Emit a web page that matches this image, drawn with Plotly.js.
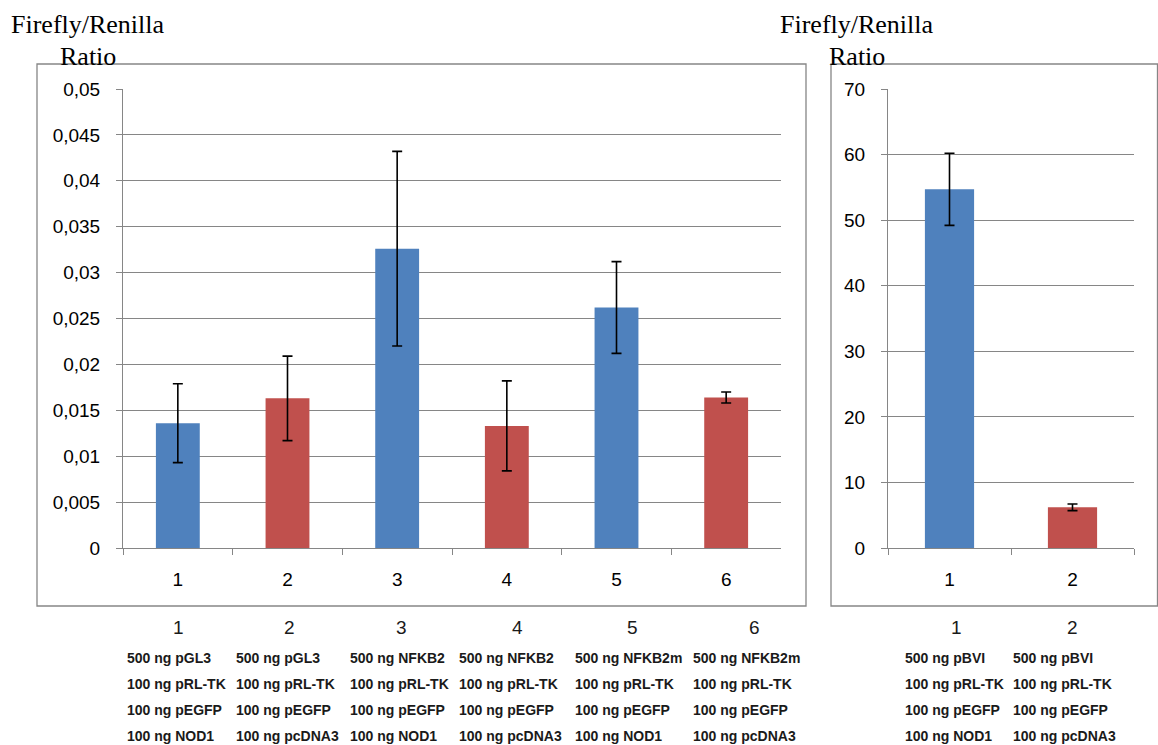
<!DOCTYPE html>
<html>
<head>
<meta charset="utf-8">
<script src="https://cdn.plot.ly/plotly-3.0.1.min.js"></script>
<style>html,body{margin:0;padding:0;background:#fff;}#chart{width:1158px;height:745px;}</style>
</head>
<body>
<div id="chart"></div>
<script>
// ---------- data ----------
const yTitle = 'Firefly/Renilla';
const yTitle2 = 'Ratio';

const leftCategories = ['1', '2', '3', '4', '5', '6'];
const leftValues = [0.0136, 0.0163, 0.0326, 0.0133, 0.0262, 0.0164];
const leftErrors = [0.0043, 0.0046, 0.0106, 0.0049, 0.0050, 0.0006];
const leftReporter = ['500 ng pGL3', '500 ng pGL3', '500 ng NFKB2', '500 ng NFKB2', '500 ng NFKB2m', '500 ng NFKB2m'];
const leftControl = ['100 ng pRL-TK', '100 ng pRL-TK', '100 ng pRL-TK', '100 ng pRL-TK', '100 ng pRL-TK', '100 ng pRL-TK'];
const leftMarker = ['100 ng pEGFP', '100 ng pEGFP', '100 ng pEGFP', '100 ng pEGFP', '100 ng pEGFP', '100 ng pEGFP'];
const leftEffector = ['100 ng NOD1', '100 ng pcDNA3', '100 ng NOD1', '100 ng pcDNA3', '100 ng NOD1', '100 ng pcDNA3'];

const rightCategories = ['1', '2'];
const rightValues = [54.7, 6.2];
const rightErrors = [5.5, 0.5];
const rightReporter = ['500 ng pBVI', '500 ng pBVI'];
const rightControl = ['100 ng pRL-TK', '100 ng pRL-TK'];
const rightMarker = ['100 ng pEGFP', '100 ng pEGFP'];
const rightEffector = ['100 ng NOD1', '100 ng pcDNA3'];

// ---------- style / layout ----------
const W = 1158, H = 745;
const BLUE = '#4F81BD', RED = '#C0504D', GRID = '#868686';
const colorFor = e => e.indexOf('NOD1') >= 0 ? BLUE : RED;
const px = x => x / W;
const py = y => 1 - y / H;

const leftNumX = [178, 289, 401, 517, 632, 754];
const leftColX = [125, 234, 348, 457, 573, 691];
const rightNumX = [956, 1072];
const rightColX = [903, 1011];
const rowY = [658, 684, 710, 736];
const numY = 627;

const tickFont = {family: 'Liberation Sans, Arial, sans-serif', size: 19, color: '#000'};
const errStyle = {type: 'data', visible: true, color: '#000', thickness: 1.6, width: 5};

const traces = [
  {type: 'bar', x: leftCategories, y: leftValues, xaxis: 'x', yaxis: 'y',
   marker: {color: leftEffector.map(colorFor), line: {width: 0}},
   error_y: Object.assign({array: leftErrors}, errStyle), hoverinfo: 'x+y'},
  {type: 'bar', x: rightCategories, y: rightValues, xaxis: 'x2', yaxis: 'y2',
   marker: {color: rightEffector.map(colorFor), line: {width: 0}},
   error_y: Object.assign({array: rightErrors}, errStyle), hoverinfo: 'x+y'}
];

const xBase = {type: 'category', tickson: 'boundaries', ticks: 'outside', ticklen: 6,
  tickcolor: GRID, showline: true, linecolor: GRID, linewidth: 1, showgrid: false,
  tickfont: tickFont, ticklabelstandoff: 14, fixedrange: true};
const yBase = {ticks: 'outside', ticklen: 6, tickcolor: GRID, showline: true, linecolor: GRID,
  linewidth: 1, showgrid: true, gridcolor: GRID, gridwidth: 1, zeroline: false,
  tickfont: tickFont, ticklabelstandoff: 12, fixedrange: true};

const annotations = [];
function addText(x, y, text, font, xanchor) {
  annotations.push({xref: 'paper', yref: 'paper', x: px(x), y: py(y), text: text,
    showarrow: false, xanchor: xanchor, yanchor: 'middle', font: font});
}
const titleFont = {family: 'Liberation Serif, Times New Roman, serif', size: 26, color: '#000'};
addText(88, 25, yTitle, titleFont, 'center');
addText(88, 57, yTitle2, titleFont, 'center');
addText(857, 25, yTitle, titleFont, 'center');
addText(857, 57, yTitle2, titleFont, 'center');

const numFont = {family: 'Liberation Sans, Arial, sans-serif', size: 19, color: '#1a1a1a'};
const cellFont = {family: 'Liberation Sans, Arial, sans-serif', size: 14, color: '#1a1a1a', weight: 700};

leftCategories.forEach((c, i) => {
  addText(leftNumX[i], numY, c, numFont, 'center');
  [leftReporter[i], leftControl[i], leftMarker[i], leftEffector[i]].forEach((t, r) =>
    addText(leftColX[i], rowY[r], t, cellFont, 'left'));
});
rightCategories.forEach((c, i) => {
  addText(rightNumX[i], numY, c, numFont, 'center');
  [rightReporter[i], rightControl[i], rightMarker[i], rightEffector[i]].forEach((t, r) =>
    addText(rightColX[i], rowY[r], t, cellFont, 'left'));
});

const shapes = [
  {type: 'rect', xref: 'paper', yref: 'paper', x0: px(37), x1: px(806), y0: py(606), y1: py(64),
   line: {color: GRID, width: 1.3}, fillcolor: 'rgba(0,0,0,0)', layer: 'below'},
  {type: 'rect', xref: 'paper', yref: 'paper', x0: px(831), x1: px(1157.5), y0: py(606), y1: py(64),
   line: {color: GRID, width: 1.3}, fillcolor: 'rgba(0,0,0,0)', layer: 'below'}
];

const layout = {
  width: W, height: H,
  margin: {l: 0, r: 0, t: 0, b: 0, pad: 0},
  paper_bgcolor: '#fff', plot_bgcolor: 'rgba(0,0,0,0)',
  separators: ', ',
  showlegend: false,
  bargap: 0.6,
  xaxis: Object.assign({}, xBase, {domain: [px(123), px(781)], anchor: 'y'}),
  yaxis: Object.assign({}, yBase, {domain: [py(548), py(89)], range: [0, 0.05], dtick: 0.005, tick0: 0, anchor: 'x'}),
  xaxis2: Object.assign({}, xBase, {domain: [px(888), px(1134)], anchor: 'y2'}),
  yaxis2: Object.assign({}, yBase, {domain: [py(548), py(89)], range: [0, 70], dtick: 10, tick0: 0, anchor: 'x2'}),
  annotations: annotations,
  shapes: shapes
};

Plotly.newPlot('chart', traces, layout, {displayModeBar: false, staticPlot: true});
</script>
</body>
</html>
